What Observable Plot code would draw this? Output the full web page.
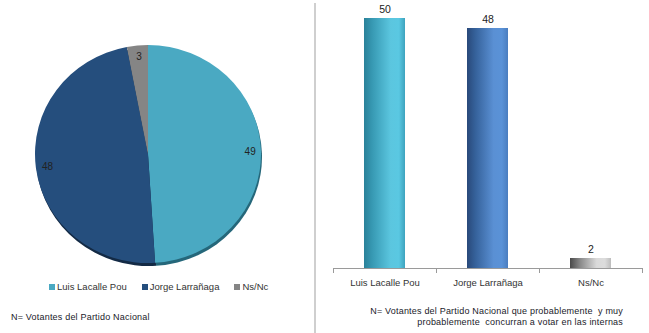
<!DOCTYPE html>
<html><head><meta charset="utf-8">
<script src="https://cdn.jsdelivr.net/npm/d3@7"></script>
<script src="https://cdn.jsdelivr.net/npm/@observablehq/plot@0.6"></script>
<style>
body{margin:0;background:#fff;}
#root{position:relative;width:649px;height:333px;overflow:hidden;font-family:"Liberation Sans",Arial,sans-serif;color:#222;}
#root svg{position:absolute;top:0;overflow:visible;}
.divider{position:absolute;left:314px;top:3px;width:2px;height:330px;background:#cfcfcf;}
.legend{position:absolute;left:49px;top:281px;display:flex;gap:15px;font-size:9.5px;color:#333;}
.legend span.sw{display:inline-block;width:6px;height:6px;margin-right:2px;vertical-align:0px;}
.note{position:absolute;font-size:9px;line-height:11px;color:#1a1a2a;letter-spacing:0.2px;}
</style></head><body><div id="root"></div>
<script>
const candidates = ["Luis Lacalle Pou", "Jorge Larrañaga", "Ns/Nc"];
const pieValues = [49, 48, 3];
const barValues = [50, 48, 2];
const pieColors = ["#4aa9c2", "#254e7d", "#858585"];
const shadowColors = ["#25677a", "#132a45", "#4a4a4a"];
const barGradients = ["gLuis", "gJorge", "gNs"];
const pieNote = "N= Votantes del Partido Nacional";
const barNote = ["N= Votantes del Partido Nacional que probablemente  y muy", "probablemente  concurran a votar en las internas"];

const root = document.getElementById("root");

// ---------- PIE ----------
const arcs = d3.pie().sort(null).startAngle(0).endAngle(2 * Math.PI)(pieValues);
const pieLabels = arcs.map((a, i) => {
  const m = (a.startAngle + a.endAngle) / 2;
  return {x: 0.9 * Math.sin(m), y: 0.9 * Math.cos(m), text: String(pieValues[i])};
});
function pieMark(colors, dx, dy) {
  return (index, scales) => {
    const cx = scales.x(0), cy = scales.y(0);
    const rx = scales.x(1) - cx, ry = cy - scales.y(1);
    const g = d3.create("svg:g")
      .attr("transform", `translate(${cx + dx},${cy + dy}) scale(1,${ry / rx})`);
    const arc = d3.arc().innerRadius(0).outerRadius(rx);
    g.selectAll("path").data(arcs).join("path")
      .attr("d", arc).attr("fill", (d, i) => colors[i]);
    return g.node();
  };
}
const pie = Plot.plot({
  width: 315, height: 333, margin: 0,
  x: {domain: [-1, 1], range: [35, 261], axis: null},
  y: {domain: [-1, 1], range: [263, 45], axis: null},
  marks: [
    pieMark(shadowColors, 1, 3),
    pieMark(pieColors, 0, 0),
    Plot.text(pieLabels, {x: "x", y: "y", text: "text", fontSize: 10, fill: "#222",
      fontFamily: "Liberation Sans, Arial, sans-serif"})
  ]
});
pie.style.left = "0px";
root.appendChild(pie);

const legend = document.createElement("div");
legend.className = "legend";
candidates.forEach((c, i) => {
  const it = document.createElement("div");
  it.innerHTML = `<span class="sw" style="background:${pieColors[i]}"></span>${c}`;
  legend.appendChild(it);
});
root.appendChild(legend);

const n1 = document.createElement("div");
n1.className = "note"; n1.style.left = "11px"; n1.style.top = "312px";
n1.textContent = pieNote;
root.appendChild(n1);

const div = document.createElement("div");
div.className = "divider";
root.appendChild(div);

// ---------- BARS ----------
const bars = candidates.map((c, i) => ({name: c, value: barValues[i], grad: `url(#${barGradients[i]})`}));
const gradStops = {
  gLuis: [[0, "#2a8199"], [0.2, "#3799b3"], [0.65, "#5bc6df"], [0.85, "#5ac8e2"], [1, "#3ea3be"]],
  gJorge: [[0, "#29497a"], [0.2, "#35619a"], [0.65, "#5a90d4"], [0.85, "#5a92d7"], [1, "#4a7dbf"]],
  gNs: [[0, "#4a4a4a"], [0.25, "#8a8a8a"], [0.65, "#dadada"], [0.85, "#dcdcdc"], [1, "#bdbdbd"]]
};
const defsMark = () => {
  const defs = d3.create("svg:defs");
  for (const [id, stops] of Object.entries(gradStops)) {
    const lg = defs.append("linearGradient").attr("id", id)
      .attr("x1", 0).attr("x2", 1).attr("y1", 0).attr("y2", 0);
    stops.forEach(([o, c]) => lg.append("stop").attr("offset", o).attr("stop-color", c));
  }
  return defs.node();
};
const PAD_IN = 0.6, PAD_OUT = 0.3;
const axisMark = (index, scales) => {
  const y0 = scales.y(0);
  const step = scales.x(candidates[1]) - scales.x(candidates[0]);
  const bw = step * (1 - PAD_IN);
  const edges = candidates.map(c => scales.x(c) - step * PAD_IN / 2);
  edges.push(scales.x(candidates[candidates.length - 1]) + bw + step * PAD_IN / 2);
  const g = d3.create("svg:g").attr("stroke", "#9a9a9a").attr("stroke-width", 1);
  g.append("line").attr("x1", edges[0]).attr("x2", edges[edges.length - 1])
    .attr("y1", y0 + 0.5).attr("y2", y0 + 0.5);
  edges.forEach(e => g.append("line").attr("x1", Math.round(e) + 0.5).attr("x2", Math.round(e) + 0.5)
    .attr("y1", y0).attr("y2", y0 + 5));
  return g.node();
};
const barChart = Plot.plot({
  width: 334, height: 333, margin: 0,
  x: {domain: candidates, range: [18, 328], paddingInner: PAD_IN, paddingOuter: PAD_OUT, axis: null},
  y: {domain: [0, 50], range: [268, 18], axis: null},
  color: {type: "identity"},
  style: {fontFamily: "Liberation Sans, Arial, sans-serif"},
  marks: [
    defsMark,
    Plot.barY(bars, {x: "name", y: "value", fill: "grad"}),
    axisMark,
    Plot.text(bars, {x: "name", y: "value", text: d => String(d.value), dy: -9, fontSize: 10.5, fill: "#222"}),
    Plot.text(bars, {x: "name", y: 0, text: "name", dy: 14, fontSize: 9.5, fill: "#333"})
  ]
});
barChart.style.left = "315px";
root.appendChild(barChart);

const n2 = document.createElement("div");
n2.className = "note"; n2.style.right = "26px"; n2.style.top = "306px"; n2.style.textAlign = "right";
n2.style.whiteSpace = "pre";
n2.textContent = barNote.join("\n");
root.appendChild(n2);
</script>
</body></html>
